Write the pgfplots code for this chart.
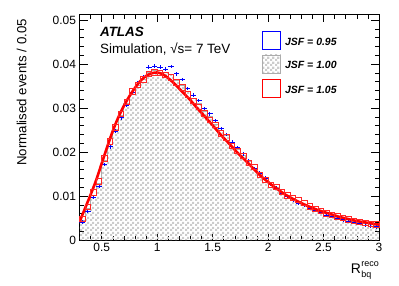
\documentclass[border=0pt]{standalone}
\usepackage{pgfplots}
\pgfplotsset{compat=1.18}
\usepackage{pgfplotstable}
\usetikzlibrary{patterns}
\usepackage{fontspec}
\setmainfont{Liberation Sans}

\pgfdeclarepatternformonly{finecheck}{\pgfpointorigin}{\pgfqpoint{5bp}{5bp}}{\pgfqpoint{5bp}{5bp}}{%
  \pgfpathrectangle{\pgfpointorigin}{\pgfqpoint{2.5bp}{2.5bp}}%
  \pgfpathrectangle{\pgfqpoint{2.5bp}{2.5bp}}{\pgfqpoint{2.5bp}{2.5bp}}%
  \pgfusepath{fill}}

\pgfplotstableread{
xlo xc grey blue red
0.30 0.325 0.0045 0.0041 0.0048
0.35 0.375 0.0072 0.0066 0.0075
0.40 0.425 0.0102 0.0098 0.0108
0.45 0.475 0.0128 0.0122 0.0133
0.50 0.525 0.0180 0.0172 0.0186
0.55 0.575 0.0218 0.0212 0.0224
0.60 0.625 0.0252 0.0248 0.0256
0.65 0.675 0.0283 0.0278 0.0287
0.70 0.725 0.0310 0.0306 0.0314
0.75 0.775 0.0336 0.0335 0.0338
0.80 0.825 0.0352 0.0358 0.0353
0.85 0.875 0.0366 0.0372 0.0365
0.90 0.925 0.0382 0.0393 0.0378
0.95 0.975 0.0385 0.0396 0.0381
1.00 1.025 0.0386 0.0393 0.0380
1.05 1.075 0.0381 0.0389 0.0376
1.10 1.125 0.0376 0.0395 0.0370
1.15 1.175 0.0364 0.0378 0.0358
1.20 1.225 0.0352 0.0365 0.0347
1.25 1.275 0.0338 0.0345 0.0331
1.30 1.325 0.0322 0.0330 0.0317
1.35 1.375 0.0310 0.0317 0.0303
1.40 1.425 0.0292 0.0299 0.0288
1.45 1.475 0.0280 0.0287 0.0273
1.50 1.525 0.0263 0.0271 0.0262
1.55 1.575 0.0250 0.0254 0.0243
1.60 1.625 0.0238 0.0240 0.0233
1.65 1.675 0.0220 0.0223 0.0214
1.70 1.725 0.0206 0.0210 0.0203
1.75 1.775 0.0193 0.0196 0.0191
1.80 1.825 0.0179 0.0181 0.0176
1.85 1.875 0.0162 0.0163 0.0166
1.90 1.925 0.0150 0.0152 0.0148
1.95 1.975 0.0140 0.0141 0.0137
2.00 2.025 0.0127 0.0127 0.0126
2.05 2.075 0.0120 0.0118 0.0121
2.10 2.125 0.0108 0.0106 0.0110
2.15 2.175 0.0101 0.0099 0.0102
2.20 2.225 0.0094 0.0090 0.0096
2.25 2.275 0.0088 0.0083 0.0091
2.30 2.325 0.0082 0.0078 0.0085
2.35 2.375 0.0075 0.0072 0.0076
2.40 2.425 0.0070 0.0067 0.0071
2.45 2.475 0.0065 0.0062 0.0066
2.50 2.525 0.0060 0.0057 0.0061
2.55 2.575 0.0056 0.0053 0.0057
2.60 2.625 0.0052 0.0049 0.0054
2.65 2.675 0.0049 0.0046 0.0050
2.70 2.725 0.0046 0.0043 0.0047
2.75 2.775 0.0043 0.0040 0.0044
2.80 2.825 0.0040 0.0037 0.0041
2.85 2.875 0.0038 0.0034 0.0039
2.90 2.925 0.0036 0.0032 0.0037
2.95 2.975 0.0034 0.0030 0.0036
3.00 3.025 0.0034 0.0030 0.0036
}\hist

\pgfplotstableread{
x y
0.30 0.0041
0.35 0.0072
0.40 0.0103
0.45 0.0136
0.50 0.0174
0.55 0.0212
0.60 0.0248
0.65 0.0279
0.70 0.0305
0.75 0.0327
0.80 0.0346
0.85 0.0362
0.90 0.0373
0.95 0.0379
1.00 0.0381
1.05 0.0377
1.10 0.0368
1.15 0.0357
1.20 0.0344
1.25 0.0331
1.30 0.0318
1.35 0.0303
1.40 0.0289
1.45 0.0275
1.50 0.0261
1.55 0.0246
1.60 0.0232
1.65 0.0219
1.70 0.0205
1.75 0.0192
1.80 0.0180
1.85 0.0167
1.90 0.0154
1.95 0.0142
2.00 0.0132
2.05 0.0122
2.10 0.0113
2.15 0.0104
2.20 0.0097
2.25 0.0090
2.30 0.0084
2.35 0.0078
2.40 0.0073
2.45 0.0068
2.50 0.0064
2.55 0.0060
2.60 0.0056
2.65 0.0052
2.70 0.0049
2.75 0.0046
2.80 0.0043
2.85 0.0041
2.90 0.0039
2.95 0.0037
3.00 0.0035
}\fit

\begin{document}
\begin{tikzpicture}
\begin{axis}[
  scale only axis, width=299.5bp, height=226bp,
  xmin=0.3, xmax=3, ymin=0, ymax=0.0514,
  xtick={0.5,1,1.5,2,2.5,3},
  xticklabels={0.5,1,1.5,2,2.5,3},
  minor xtick={0.4,0.6,0.7,0.8,0.9,1.1,1.2,1.3,1.4,1.6,1.7,1.8,1.9,2.1,2.2,2.3,2.4,2.6,2.7,2.8,2.9},
  ytick={0,0.01,0.02,0.03,0.04,0.05},
  yticklabels={0,0.01,0.02,0.03,0.04,0.05},
  minor ytick={0.002,0.004,0.006,0.008,0.012,0.014,0.016,0.018,0.022,0.024,0.026,0.028,0.032,0.034,0.036,0.038,0.042,0.044,0.046,0.048,0.05},
  scaled y ticks=false,
  tick align=inside, tick pos=both,
  major tick length=8bp, minor tick length=4.5bp,
  tick style={black, line width=0.5pt},
  axis line style={line width=0.6pt},
  ticklabel style={font=\fontsize{12}{12}\selectfont},
  /pgf/number format/assume math mode=true,
  xlabel={R\kern0.3pt\raisebox{-4pt}{\shortstack[l]{\fontsize{9}{9}\selectfont reco\\[1.5pt]\fontsize{9}{9}\selectfont bq}}},
  ylabel={Normalised events / 0.05},
  every axis x label/.style={at={(rel axis cs:1,0)}, anchor=north east, yshift=-21bp, inner sep=0pt, font=\fontsize{14}{14}\selectfont},
  every axis y label/.style={at={(axis description cs:-0.193,0.978)}, rotate=90, anchor=east, inner sep=0pt, font=\fontsize{13.3}{13.3}\selectfont},
  clip=true,
]
\coordinate (ll) at (rel axis cs:0,0);
\coordinate (ur) at (rel axis cs:1,1);

\addplot[draw=none, pattern=finecheck, pattern color=gray!40, const plot] table[x=xlo,y=grey]{\hist} \closedcycle;
\addplot[gray!65, line width=0.8pt, const plot, mark=none] table[x=xlo,y=grey]{\hist};

\addplot[draw=none, mark=none, skip coords between index={54}{55},
  error bars/.cd, x dir=both, x fixed=0.025, y dir=both, y fixed=0.0004,
  error mark=none, error bar style={draw=blue, line width=0.7pt}]
  table[x=xc,y=blue]{\hist};

\addplot[red!85, only marks, mark=square, mark size=2.75bp, mark options={line width=0.7pt, fill=none, draw=red!85}, skip coords between index={54}{55}]
  table[x=xc,y=red]{\hist};

\addplot[red, line width=2.6bp, smooth, mark=none] table[x=x,y=y]{\fit};

% legend
\draw[blue, line width=0.8pt, fill=white] (rel axis cs:0.612,0.844) rectangle (rel axis cs:0.672,0.922);
\path[pattern=finecheck, pattern color=gray!40] (rel axis cs:0.612,0.739) rectangle (rel axis cs:0.672,0.819);
\draw[gray!65, line width=0.8pt] (rel axis cs:0.612,0.739) rectangle (rel axis cs:0.672,0.819);
\draw[red, line width=0.8pt, fill=white] (rel axis cs:0.612,0.633) rectangle (rel axis cs:0.672,0.712);
\node[anchor=west, inner sep=0pt, font=\bfseries\itshape\fontsize{10.5}{10.5}\selectfont] at (rel axis cs:0.686,0.877) {JSF = 0.95};
\node[anchor=west, inner sep=0pt, font=\bfseries\itshape\fontsize{10.5}{10.5}\selectfont] at (rel axis cs:0.686,0.774) {JSF = 1.00};
\node[anchor=west, inner sep=0pt, font=\bfseries\itshape\fontsize{10.5}{10.5}\selectfont] at (rel axis cs:0.686,0.664) {JSF = 1.05};

\node[anchor=west, inner sep=0pt, font=\bfseries\itshape\fontsize{13.5}{13.5}\selectfont] at (rel axis cs:0.068,0.922) {ATLAS};
\node[anchor=west, inner sep=0pt, font=\fontsize{13.5}{13.5}\selectfont] at (rel axis cs:0.068,0.844) {Simulation, √s= 7 TeV};
\end{axis}
\pgfresetboundingbox
\path ([shift={(-79.5bp,-46bp)}]ll) rectangle ([shift={(20bp,14bp)}]ur);
\end{tikzpicture}
\end{document}
